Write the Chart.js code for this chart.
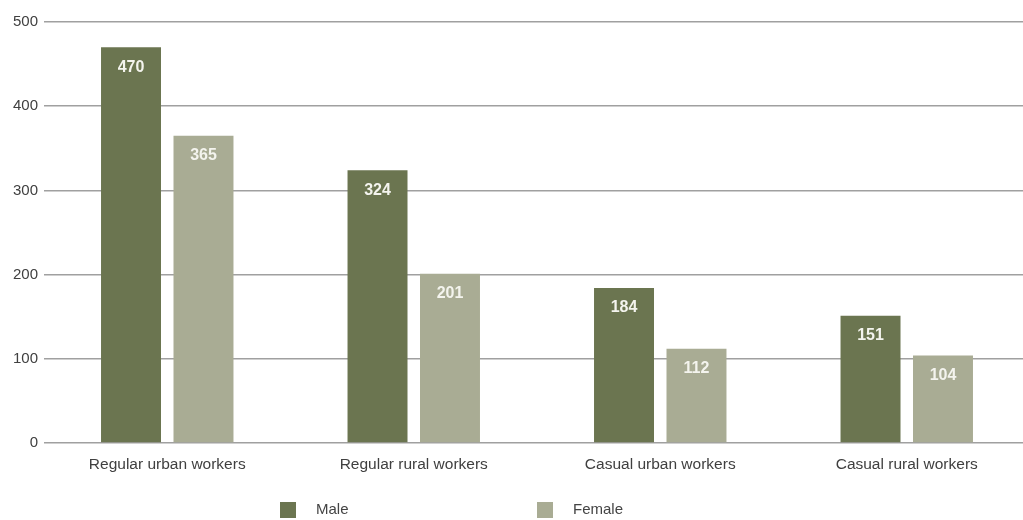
<!DOCTYPE html>
<html>
<head>
<meta charset="utf-8">
<script src="https://cdn.jsdelivr.net/npm/chart.js@4/dist/chart.umd.min.js"></script>
<style>
  html, body { margin: 0; padding: 0; background: #ffffff; overflow: hidden; }
  #wrap { width: 1032px; height: 520px; }
</style>
</head>
<body>
<div id="wrap"><canvas id="c" width="1032" height="520"></canvas></div>
<script>
// Worker categories along the x axis
const categories = ['Regular urban workers', 'Regular rural workers', 'Casual urban workers', 'Casual rural workers'];
// Values per series
const maleValues = [470, 324, 184, 151];
const femaleValues = [365, 201, 112, 104];
// Y axis tick values
const yTicks = [0, 100, 200, 300, 400, 500];

const MALE_COLOR = '#6b7550';
const FEMALE_COLOR = '#a9ac94';
const FAMILY = "'Liberation Sans', Arial, sans-serif";

// Writes each bar's value just inside its top edge
const barValueLabels = {
  id: 'barValueLabels',
  afterDatasetsDraw(chart) {
    const ctx = chart.ctx;
    ctx.save();
    ctx.fillStyle = '#f4f4ee';
    ctx.font = 'bold 16px ' + FAMILY;
    ctx.textAlign = 'center';
    ctx.textBaseline = 'middle';
    chart.data.datasets.forEach((ds, di) => {
      const meta = chart.getDatasetMeta(di);
      meta.data.forEach((bar, i) => {
        ctx.fillText(String(ds.data[i]), bar.x, bar.y + 20);
      });
    });
    ctx.restore();
  }
};

// Legend row under the axis labels
const bottomLegend = {
  id: 'bottomLegend',
  afterDraw(chart, args, opts) {
    const ctx = chart.ctx;
    ctx.save();
    ctx.font = '15px ' + FAMILY;
    ctx.textBaseline = 'middle';
    ctx.textAlign = 'left';
    chart.data.datasets.forEach((ds, di) => {
      const x = opts.positions[di];
      ctx.fillStyle = ds.backgroundColor;
      ctx.fillRect(x, opts.y - 8, 16, 16);
      ctx.fillStyle = '#444444';
      ctx.fillText(ds.label, x + 36, opts.y);
    });
    ctx.restore();
  }
};

new Chart(document.getElementById('c'), {
  type: 'bar',
  data: {
    labels: categories,
    datasets: [
      { label: 'Male', data: maleValues, backgroundColor: MALE_COLOR },
      { label: 'Female', data: femaleValues, backgroundColor: FEMALE_COLOR }
    ]
  },
  options: {
    responsive: false,
    animation: false,
    layout: { padding: { top: 22, right: 2, bottom: 0, left: 0 } },
    datasets: { bar: { categoryPercentage: 0.588, barPercentage: 0.8276 } },
    scales: {
      x: {
        grid: { display: false },
        border: { display: false },
        ticks: { color: '#404040', font: { family: FAMILY, size: 15.5 }, padding: 4, maxRotation: 0 },
        afterFit(scale) { scale.height = 77; }
      },
      y: {
        min: 0,
        max: 500,
        afterBuildTicks(scale) { scale.ticks = yTicks.map(v => ({ value: v })); },
        grid: { color: '#a0a0a0', lineWidth: 1.5, drawTicks: false },
        border: { display: false },
        ticks: { color: '#404040', font: { family: FAMILY, size: 15 }, padding: 6 },
        afterFit(scale) { scale.width = 44; }
      }
    },
    plugins: {
      legend: { display: false },
      tooltip: { enabled: false },
      bottomLegend: { positions: [280, 537], y: 510 }
    }
  },
  plugins: [barValueLabels, bottomLegend]
});
</script>
</body>
</html>
